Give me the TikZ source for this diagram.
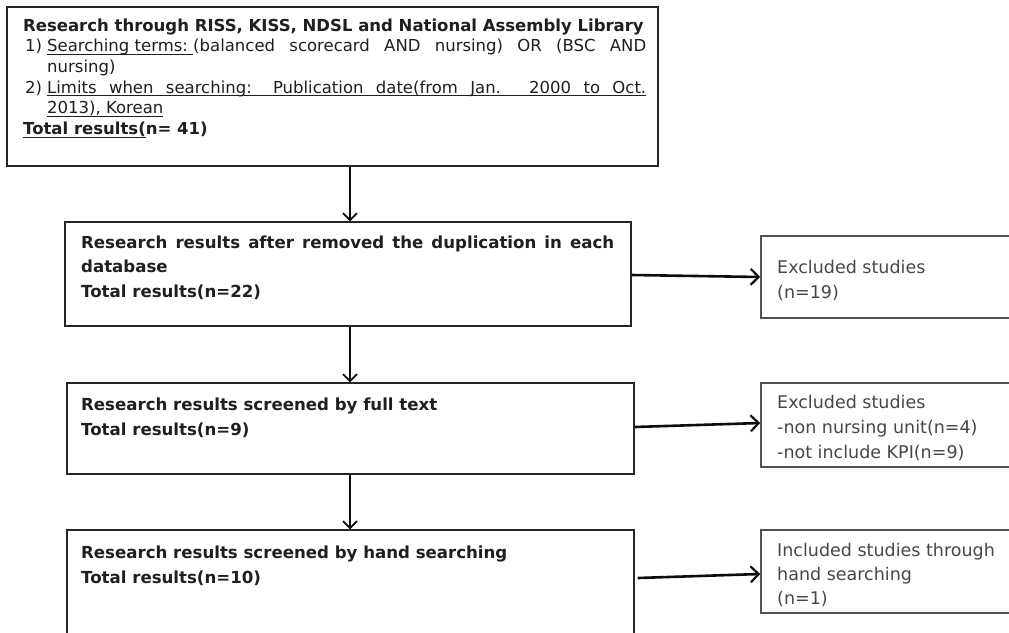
\documentclass[tikz,border=0pt]{standalone}
\usepackage{fontspec}
\setmainfont{DejaVu Sans}
\usetikzlibrary{arrows.meta}
\newcommand\myul[1]{\setbox0\hbox{#1}\rlap{\rule[-3.2pt]{\wd0}{1.1pt}}\box0}
\begin{document}
\begin{tikzpicture}[x=1pt,y=-1pt,
 box/.style={draw=black!85, line width=1.4pt, rectangle, inner sep=0pt},
 rbox/.style={draw=black!68, line width=1.6pt, rectangle, inner sep=0pt},
 arr/.style={draw=black!95, line width=1.8pt, -{Straight Barb[length=7pt,width=14pt,line width=1.8pt]}},
 harr/.style={arr, line width=2.6pt, -{Straight Barb[length=8pt,width=16pt,line width=2.2pt]}},
 ln/.style={anchor=base west, inner sep=0pt, text=black!88},
 onebold/.style={ln, font=\bfseries\fontsize{16.5}{20}\selectfont},
 onereg/.style={ln, font=\fontsize{16.5}{20}\selectfont},
 mainb/.style={ln, font=\bfseries\fontsize{16.6}{20}\selectfont},
 side/.style={ln, font=\fontsize{17.5}{21}\selectfont, text=black!72}]
\useasboundingbox (0,0) rectangle (1009,632);
\clip (0,0) rectangle (1009,632);
\fill[white] (0,0) rectangle (1009,632);
% boxes
\node[box, minimum width=651pt, minimum height=159pt] (b1) at (332.5,86.5) {};
\node[box, minimum width=566pt, minimum height=104pt] (b2) at (348,274) {};
\node[box, minimum width=567pt, minimum height=91pt] (b3) at (350.5,428.5) {};
\node[box, minimum width=567pt, minimum height=120pt] (b4) at (350.5,590) {};
\node[rbox, minimum width=279pt, minimum height=82pt] (r1) at (900.5,277) {};
\node[rbox, minimum width=279pt, minimum height=84pt] (r2) at (900.5,425) {};
\node[rbox, minimum width=279pt, minimum height=83pt] (r3) at (900.5,571.5) {};
% box 1 text
\node[onebold] (t1a) at (23,31) {Research through RISS, KISS, NDSL and National Assembly Library};
\node[onereg] (t1b) at (25,51.7) {1)};
\node[onereg] (t1c) at (47,51.7) {\makebox[599pt][s]{\myul{Searching terms:\ }(balanced scorecard AND nursing) OR (BSC AND}};
\node[onereg] (t1d) at (47,72.4) {nursing)};
\node[onereg] (t1e) at (25,93.1) {2)};
\node[onereg] (t1f) at (47,93.1) {\myul{\makebox[599pt][s]{Limits when searching: Publication date(from Jan. 2000 to Oct.}}};
\node[onereg] (t1g) at (47,113.8) {\myul{2013), Korean}};
\node[onebold] (t1h) at (23,134.5) {\myul{Total results(}n= 41)};
% box 2-4 text
\node[mainb] (t2a) at (81,248) {\makebox[533pt][s]{Research results after removed the duplication in each}};
\node[mainb] (t2b) at (81,272.5) {database};
\node[mainb] (t2c) at (81,297) {Total results(n=22)};
\node[mainb] (t3a) at (81,410) {Research results screened by full text};
\node[mainb] (t3b) at (81,435) {Total results(n=9)};
\node[mainb] (t4a) at (81,558) {Research results screened by hand searching};
\node[mainb] (t4b) at (81,583) {Total results(n=10)};
% side texts
\node[side] (s1a) at (777,273) {Excluded studies};
\node[side] (s1b) at (777,298) {(n=19)};
\node[side] (s2a) at (777,408) {Excluded studies};
\node[side] (s2b) at (777,433) {-non nursing unit(n=4)};
\node[side] (s2c) at (777,458) {-not include KPI(n=9)};
\node[side] (s3a) at (777,556) {Included studies through};
\node[side] (s3b) at (777,580) {hand searching};
\node[side] (s3c) at (777,604) {(n=1)};
% connectors
\draw[arr] ([xshift=2pt]b2.north |- b1.south) -- ([xshift=2pt]b2.north);
\draw[arr] ([xshift=2pt]b2.south) -- ([xshift=2pt]b2.south |- b3.north);
\draw[arr] ([xshift=-0.5pt]b3.south) -- ([xshift=-0.5pt]b3.south |- b4.north);
\draw[harr] ([yshift=-1pt]b2.east) -- (r1.west);
\draw[harr] ([yshift=1.5pt]b3.east) -- ([yshift=2pt]r2.west);
\draw[harr] ([yshift=12pt,xshift=3pt]b4.east) -- ([yshift=-2.5pt]r3.west);
\end{tikzpicture}
\end{document}
